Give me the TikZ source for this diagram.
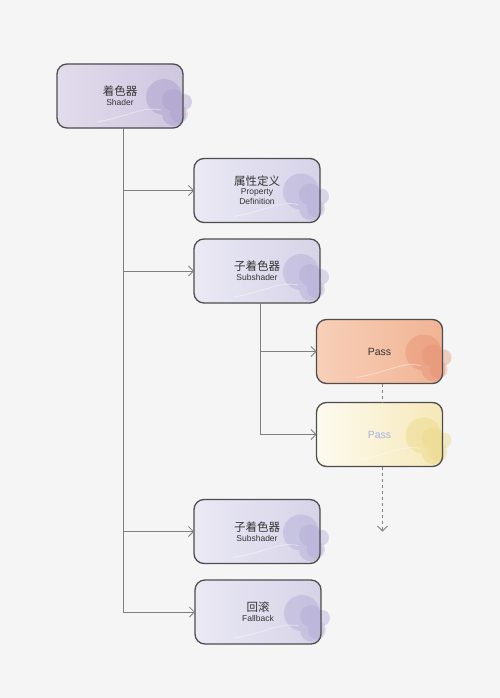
\documentclass[tikz,border=0pt]{standalone}
\usepackage{fontspec}
\setmainfont{Liberation Sans}
\newfontfamily\cjk{Noto Sans CJK SC}
\usetikzlibrary{arrows.meta,calc}

\definecolor{paper}{HTML}{F5F5F5}
\definecolor{boxline}{HTML}{4D4D4D}
\definecolor{linkgray}{HTML}{7F7F7F}
\definecolor{txtdark}{HTML}{333333}
\definecolor{lavA}{HTML}{EAE9F4}
\definecolor{lavB}{HTML}{D6D3E8}
\definecolor{lavblob}{HTML}{ABA5D2}
\definecolor{vioA}{HTML}{E2DCEC}
\definecolor{vioB}{HTML}{CFC6E0}
\definecolor{vioblob}{HTML}{A396C8}
\definecolor{orA}{HTML}{F8D0B8}
\definecolor{orB}{HTML}{F1B394}
\definecolor{orblob}{HTML}{E48C6C}
\definecolor{yeA}{HTML}{FDFBF0}
\definecolor{yeB}{HTML}{F6E8B8}
\definecolor{yeblob}{HTML}{EAD67E}
\definecolor{passlav}{HTML}{A9B0E2}

\newcommand\zh[1]{{\cjk\fontsize{11.5}{12}\selectfont #1}}
\newcommand\en[1]{{\fontsize{8.5}{9}\selectfont #1}}

% blob on the right side of a box, then the outline again on top
\newcommand\boxdeco[2]{%
  \fill[#2, opacity=.4]
    ($(#1.east)+(-19,1)$) circle[radius=18]
    ($(#1.east)+(-9,18)$) circle[radius=12]
    ($(#1.east)+(1,6)$) circle[radius=8];
  \fill[#2, opacity=.3]
    ($(#1.east)+(-10,4)$) circle[radius=11]
    ($(#1.east)+(-4,18)$) circle[radius=9];
  \draw[white, opacity=.45, line width=0.8pt]
    ($(#1.south west)+(40,-6)$) .. controls ($(#1.south)+(10,-12)$) and ($(#1.east)+(-40,10)$) .. ($(#1.east)+(-22,14)$);
  \draw[boxline, line width=1.3pt, rounded corners=10pt] (#1.south west) rectangle (#1.north east);
}

\tikzset{
  box/.style={line width=1.3pt, rounded corners=10pt, outer sep=0pt,
    minimum width=126pt, minimum height=64pt, align=center,
    text=txtdark, inner sep=2pt, left color=lavA, right color=lavB},
  shaderbox/.style={box, left color=vioA, right color=vioB},
  passbox/.style={box, left color=orA, right color=orB, font=\fontsize{10.5}{12}\selectfont},
  passbox2/.style={box, left color=yeA, right color=yeB, text=passlav, font=\fontsize{10.5}{12}\selectfont},
  link/.style={draw=linkgray, line width=0.8pt},
  linkarrow/.style={link, -{Straight Barb[length=5pt,width=10pt]}},
}

\begin{document}
\begin{tikzpicture}[x=1pt,y=-1pt]
  \fill[paper] (0,0) rectangle (500,698);
  \useasboundingbox (0,0) rectangle (500,698);

  \node[shaderbox] (shader) at (120,96) {\zh{着色器}\\[-2pt]\en{Shader}};
  \node[box] (prop) at (257,190.5) {\zh{属性定义}\\[-3pt]\en{Property}\\[-2pt]\en{Definition}};
  \node[box] (subA) at (257,271) {\zh{子着色器}\\[-2pt]\en{Subshader}};
  \node[passbox] (passA) at (379.5,351.5) {Pass};
  \node[passbox2] (passB) at (379.5,434.5) {Pass};
  \node[box] (subB) at (257,531.5) {\zh{子着色器}\\[-2pt]\en{Subshader}};
  \node[box] (fallback) at (258,612) {\zh{回滚}\\[-2pt]\en{Fallback}};

  \boxdeco{shader}{vioblob}
  \boxdeco{prop}{lavblob}
  \boxdeco{subA}{lavblob}
  \boxdeco{passA}{orblob}
  \boxdeco{passB}{yeblob}
  \boxdeco{subB}{lavblob}
  \boxdeco{fallback}{lavblob}

  % main trunk
  \coordinate (trunk) at ($(shader.south)+(3,0)$);
  \draw[link] (trunk) -- (trunk |- fallback.west);
  \draw[linkarrow] (trunk |- prop.west) -- (prop.west);
  \draw[linkarrow] (trunk |- subA.west) -- (subA.west);
  \draw[linkarrow] (trunk |- subB.west) -- (subB.west);
  \draw[linkarrow] (trunk |- fallback.west) -- (fallback.west);

  % passes of the subshader
  \coordinate (subtrunk) at ($(subA.south)+(3,0)$);
  \draw[link] (subtrunk) -- (subtrunk |- passB.west);
  \draw[linkarrow] (subtrunk |- passA.west) -- (passA.west);
  \draw[linkarrow] (subtrunk |- passB.west) -- (passB.west);

  \coordinate (passdown) at ($(passA.south)+(3,0)$);
  \coordinate (passend) at ($(passB.south)+(3,65)$);
  \draw[link, dashed] (passdown) -- (passdown |- passB.north);
  \draw[linkarrow, dashed] (passdown |- passB.south) -- (passend);
\end{tikzpicture}
\end{document}
